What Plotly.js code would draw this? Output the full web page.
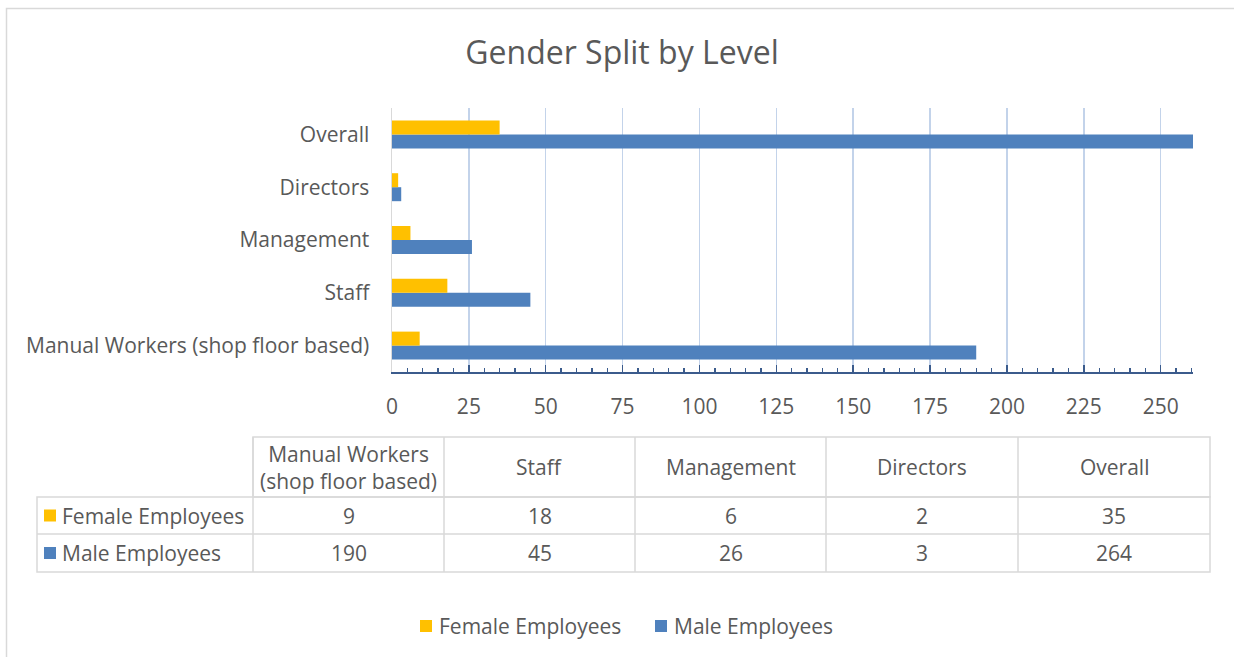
<!DOCTYPE html>
<html>
<head>
<meta charset="utf-8">
<script src="https://cdn.plot.ly/plotly-3.0.1.min.js"></script>
<style>
html,body{margin:0;padding:0;background:#fff;}
#chart{width:1234px;height:657px;}
</style>
</head>
<body>
<div id="chart"></div>
<script>
// ---- data ----
const categories = ['Manual Workers (shop floor based)', 'Staff', 'Management', 'Directors', 'Overall'];
const tableHeaders = ['Manual Workers<br>(shop floor based)', 'Staff', 'Management', 'Directors', 'Overall'];
const femaleValues = [9, 18, 6, 2, 35];
const maleValues = [190, 45, 26, 3, 264];
const seriesNames = ['Female Employees', 'Male Employees'];
const xTickValues = [0, 25, 50, 75, 100, 125, 150, 175, 200, 225, 250];
const chartTitle = 'Gender Split by Level';

// ---- styling / geometry ----
const FEMALE_COLOR = '#FFC000';
const MALE_COLOR = '#4F81BD';
const TEXT_COLOR = '#595959';
const FONT = 'Open Sans, Lato, sans-serif';
const FS = 21;
const W = 1234, H = 657;
const PL = 392, PR = 1193, PT = 108, PB = 372;
const px2x = p => (p - PL) / (PR - PL);
const px2y = p => (PB - p) / (PB - PT);

const traces = [
  {type: 'bar', orientation: 'h', name: seriesNames[1], y: categories, x: maleValues,
   marker: {color: MALE_COLOR}, hoverinfo: 'x+name'},
  {type: 'bar', orientation: 'h', name: seriesNames[0], y: categories, x: femaleValues,
   marker: {color: FEMALE_COLOR}, hoverinfo: 'x+name'}
];

// table geometry
const colEdges = [253, 444, 635, 826, 1018, 1210];
const tableLeft = 37;
const rowEdges = [437, 497, 534, 572];
const LINE = {color: '#D9D9D9', width: 1.5};

const shapes = [];
const annotations = [];

// outer chart border
shapes.push({type: 'rect', xref: 'paper', yref: 'paper',
  x0: px2x(6.5), x1: px2x(1245), y0: px2y(8.5), y1: px2y(670),
  line: {color: '#D9D9D9', width: 1.5}, fillcolor: 'rgba(0,0,0,0)', layer: 'below'});

// header row border
shapes.push({type: 'rect', xref: 'paper', yref: 'paper',
  x0: px2x(colEdges[0]), x1: px2x(colEdges[5]), y0: px2y(rowEdges[0]), y1: px2y(rowEdges[1]), line: LINE});
// data rows border
shapes.push({type: 'rect', xref: 'paper', yref: 'paper',
  x0: px2x(tableLeft), x1: px2x(colEdges[5]), y0: px2y(rowEdges[1]), y1: px2y(rowEdges[3]), line: LINE});
shapes.push({type: 'line', xref: 'paper', yref: 'paper',
  x0: px2x(tableLeft), x1: px2x(colEdges[5]), y0: px2y(rowEdges[2]), y1: px2y(rowEdges[2]), line: LINE});
for (let i = 0; i < colEdges.length - 1; i++) {
  shapes.push({type: 'line', xref: 'paper', yref: 'paper',
    x0: px2x(colEdges[i]), x1: px2x(colEdges[i]), y0: px2y(rowEdges[0]), y1: px2y(rowEdges[3]), line: LINE});
}

const cellFont = {family: FONT, size: FS, color: TEXT_COLOR};
// headers
tableHeaders.forEach((h, i) => {
  annotations.push({xref: 'paper', yref: 'paper', showarrow: false,
    x: px2x((colEdges[i] + colEdges[i + 1]) / 2), y: px2y((rowEdges[0] + rowEdges[1]) / 2),
    text: h, font: cellFont, xanchor: 'center', yanchor: 'middle', align: 'center'});
});
// rows
const rows = [femaleValues, maleValues];
const rowColors = [FEMALE_COLOR, MALE_COLOR];
rows.forEach((vals, r) => {
  const yc = (rowEdges[r + 1] + rowEdges[r + 2]) / 2;
  shapes.push({type: 'rect', xref: 'paper', yref: 'paper',
    x0: px2x(44), x1: px2x(56), y0: px2y(yc - 6), y1: px2y(yc + 6),
    fillcolor: rowColors[r], line: {width: 0}});
  annotations.push({xref: 'paper', yref: 'paper', showarrow: false,
    x: px2x(60), y: px2y(yc), text: seriesNames[r], font: cellFont,
    xanchor: 'left', yanchor: 'middle'});
  vals.forEach((v, i) => {
    annotations.push({xref: 'paper', yref: 'paper', showarrow: false,
      x: px2x((colEdges[i] + colEdges[i + 1]) / 2), y: px2y(yc), text: String(v),
      font: cellFont, xanchor: 'center', yanchor: 'middle'});
  });
});

// legend (bottom, drawn as squares + labels)
const legendY = 626;
const legendSquareX = [420, 655];
seriesNames.forEach((name, i) => {
  shapes.push({type: 'rect', xref: 'paper', yref: 'paper',
    x0: px2x(legendSquareX[i]), x1: px2x(legendSquareX[i] + 12),
    y0: px2y(legendY - 6), y1: px2y(legendY + 6),
    fillcolor: rowColors[i], line: {width: 0}});
  annotations.push({xref: 'paper', yref: 'paper', showarrow: false,
    x: px2x(legendSquareX[i] + 17), y: px2y(legendY), text: name, font: cellFont,
    xanchor: 'left', yanchor: 'middle'});
});

const layout = {
  width: W, height: H,
  margin: {l: PL, r: W - PR, t: PT, b: H - PB, pad: 0},
  paper_bgcolor: '#fff', plot_bgcolor: '#fff',
  font: {family: FONT, color: TEXT_COLOR, size: FS},
  title: {text: chartTitle, font: {family: FONT, size: 32, color: TEXT_COLOR},
    x: 622 / W, xanchor: 'center', y: 1 - 53 / H, yanchor: 'middle'},
  barmode: 'group', bargap: 0.47, bargroupgap: 0,
  xaxis: {
    range: [0, 260.5], tickvals: xTickValues, ticktext: xTickValues.map(String),
    showgrid: true, gridcolor: '#C3D3EA', gridwidth: 1.5,
    showline: true, linecolor: '#3B5B8C', linewidth: 1.5,
    ticks: 'inside', ticklen: 7, tickcolor: '#3B5B8C', tickwidth: 1.5,
    minor: {dtick: 5, tick0: 0, ticks: 'inside', ticklen: 4, tickcolor: '#3B5B8C', tickwidth: 1.3, showgrid: false},
    ticklabelstandoff: 15,
    tickfont: {family: FONT, size: FS, color: TEXT_COLOR},
    zeroline: false, fixedrange: true
  },
  yaxis: {
    type: 'category', categoryorder: 'array', categoryarray: categories,
    range: [-0.5, 4.5],
    showline: true, linecolor: '#D9D9D9', linewidth: 1.5,
    showgrid: false, zeroline: false, ticks: '',
    ticklabelstandoff: 17,
    tickfont: {family: FONT, size: FS, color: TEXT_COLOR}, fixedrange: true
  },
  showlegend: false,
  shapes: shapes,
  annotations: annotations
};

Plotly.newPlot('chart', traces, layout, {displayModeBar: false, staticPlot: true});
</script>
</body>
</html>
